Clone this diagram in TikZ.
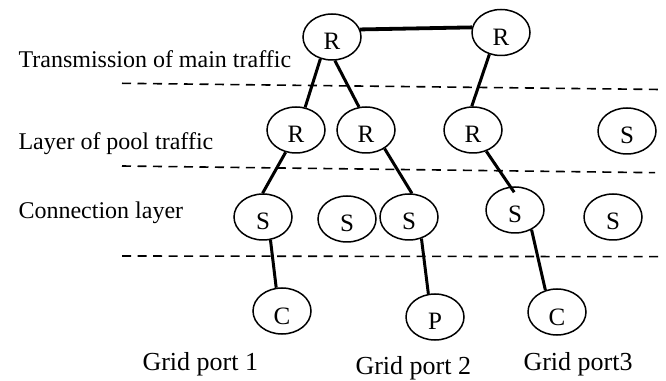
\documentclass[tikz,border=0pt]{standalone}
\usepackage{fontspec}
\setmainfont{Liberation Serif}
\usepackage{tikz}
\usetikzlibrary{shapes.geometric}
\tikzset{
    unit/.style={ellipse, draw, line width=1.5pt, minimum width=58pt, minimum height=46pt, inner sep=0pt, text height=26pt, text depth=0pt, font=\fontsize{25}{29}\selectfont},
    link/.style={line width=3pt},
    layer/.style={dash pattern=on 9pt off 6.5pt, line width=1.6pt},
    caption/.style={anchor=base west, font=\fontsize{24}{28}\selectfont},
    port/.style={anchor=base west, font=\fontsize{26}{30}\selectfont}
}

\begin{document}
\begin{tikzpicture}[x=1pt,y=1pt]
\useasboundingbox (0,0) rectangle (666,380);
\foreach \x/\y/\n/\t in {332/343/r1/R, 501/347.5/r2/R, 296/250/p1/R, 366/250/p2/R, 473/250/p3/R, 627/249/p4/S, 263/163/s1/S, 347/161/s2/S, 409/163/s3/S, 515/170/s4/S, 613/163/s5/S, 282/69/c1/C, 435/63/g2/P, 557/68/c3/C}{
    \node[unit] (\n) at (\x,\y) {\t};
}
\node[caption] (main) at (15,312) {Transmission of main traffic};
\node[caption] (pool) at (15,230) {Layer of pool traffic};
\node[caption] (conn) at (15,161) {Connection layer};
\node[port] (gp1) at (139,10) {Grid port 1};
\node[port] (gp2) at (352,6) {Grid port 2};
\node[port] (gp3) at (520,9.3) {Grid port3};
\draw[layer] (122,296.7) -- (660,290.5);
\draw[layer] (122,214) -- (655,207.3);
\draw[layer] (122,124) -- (660,123.3);
\draw[link, line width=3.8pt] (r1.15) -- (r2.170);
\draw[link] (r1.242) -- (p1.68);
\draw[link] (r1.277) -- (p2.107);
\draw[link] (r2.242) -- (p3.93);
\draw[link] (p1.245) -- (s1.91);
\draw[link] (p2.315) -- (s3.83);
\draw[link] (p3.302) -- ([yshift=-6pt]s4.92);
\draw[link] (s1.288) -- (c1.104);
\draw[link] (s3.300) -- (g2.106);
\draw[link] (s4.-50) -- (c3.118);
\end{tikzpicture}
\end{document}
